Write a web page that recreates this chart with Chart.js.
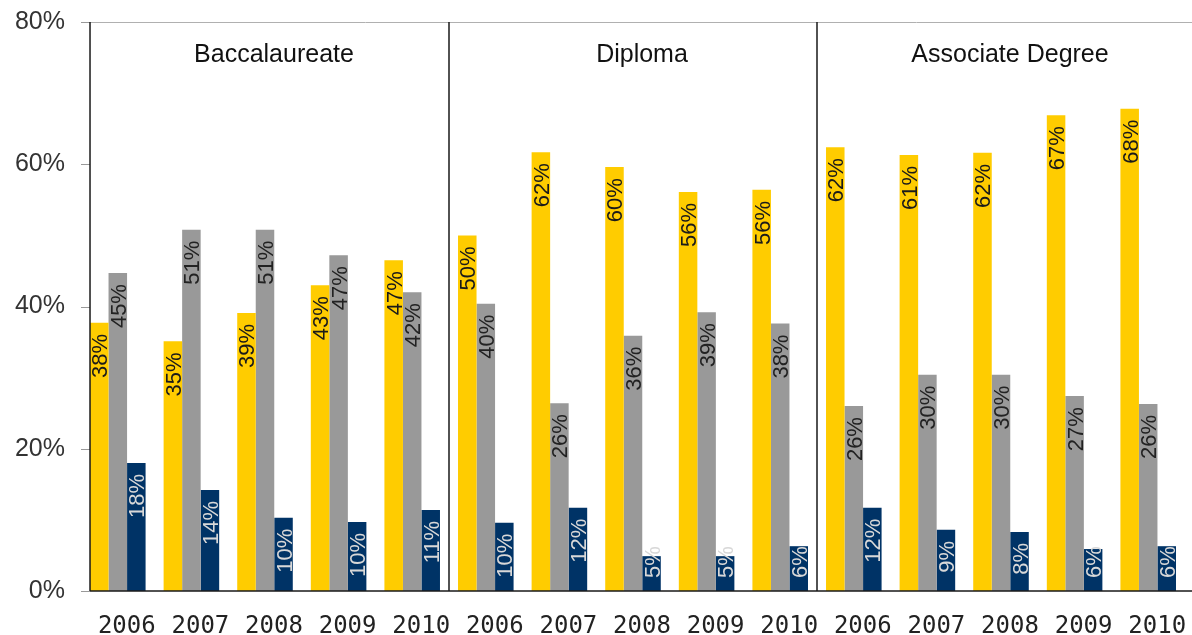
<!DOCTYPE html>
<html>
<head>
<meta charset="utf-8">
<script src="https://cdn.jsdelivr.net/npm/chart.js@4.4.1/dist/chart.umd.min.js"></script>
<style>
  html, body { margin: 0; padding: 0; background: #fff; }
  #wrap { width: 1192px; height: 635px; }
</style>
</head>
<body>
<div id="wrap"><canvas id="chart" width="1192" height="635"></canvas></div>
<script>
const programs = ['Baccalaureate', 'Diploma', 'Associate Degree'];
const years = ['2006', '2007', '2008', '2009', '2010'];

// per program, 2006..2010
const yellowValues = [
  37.7, 35.1, 39.1, 43.0, 46.5,
  50.0, 61.7, 59.6, 56.1, 56.4,
  62.4, 61.3, 61.6, 66.9, 67.8
];
const grayValues = [
  44.7, 50.8, 50.8, 47.2, 42.0,
  40.4, 26.4, 35.9, 39.2, 37.6,
  26.0, 30.4, 30.4, 27.4, 26.3
];
const navyValues = [
  18.0, 14.2, 10.3, 9.7, 11.4,
  9.6, 11.7, 4.9, 4.9, 6.3,
  11.7, 8.6, 8.3, 5.9, 6.3
];
const yTicks = [0, 20, 40, 60, 80];

const labels = [];
programs.forEach(p => years.forEach(yr => labels.push(p + ' ' + yr)));

const labelColors = ['#1a1a1a', '#222222', '#d8d8d8'];

// lines, separators, titles and rotated value labels
const decorPlugin = {
  id: 'decor',
  afterDatasetsDraw(chart) {
    const ctx = chart.ctx;
    const xs = chart.scales.x;
    const ys = chart.scales.y;
    const area = chart.chartArea;
    const firstBar = chart.getDatasetMeta(0).data[0];
    const axisX = firstBar.x - firstBar.width / 2;
    const top = ys.getPixelForValue(80);
    const base = ys.getPixelForValue(0);

    ctx.save();

    // value labels
    ctx.font = '22px "Liberation Sans", Arial, sans-serif';
    chart.data.datasets.forEach((ds, di) => {
      const meta = chart.getDatasetMeta(di);
      meta.data.forEach((bar, i) => {
        const text = Math.round(ds.data[i]) + '%';
        const w = ctx.measureText(text).width;
        let yStart = bar.y + 11;
        if (yStart + w > base - 13) yStart = base - 13 - w;
        ctx.save();
        ctx.translate(bar.x + 8, yStart);
        ctx.rotate(-Math.PI / 2);
        ctx.fillStyle = labelColors[di];
        ctx.textAlign = 'right';
        ctx.textBaseline = 'alphabetic';
        ctx.fillText(text, 0, 0);
        ctx.restore();
      });
    });

    // tick marks
    ctx.strokeStyle = '#999';
    ctx.lineWidth = 1;
    yTicks.forEach(v => {
      const py = Math.round(ys.getPixelForValue(v)) + 0.5;
      ctx.beginPath();
      ctx.moveTo(area.left, py);
      ctx.lineTo(axisX, py);
      ctx.stroke();
    });

    // top line
    ctx.strokeStyle = '#b0b0b0';
    ctx.beginPath();
    ctx.moveTo(axisX, Math.round(top) + 0.5);
    ctx.lineTo(chart.width, Math.round(top) + 0.5);
    ctx.stroke();

    // axis lines and group separators
    ctx.strokeStyle = '#1a1a1a';
    ctx.lineWidth = 1.5;
    ctx.beginPath();
    ctx.moveTo(axisX, base);
    ctx.lineTo(chart.width, base);
    ctx.moveTo(axisX, top);
    ctx.lineTo(axisX, base);
    [5, 10].forEach(k => {
      const sx = (xs.getPixelForValue(k - 1) + xs.getPixelForValue(k)) / 2;
      ctx.moveTo(sx, top);
      ctx.lineTo(sx, base);
    });
    ctx.stroke();

    // program titles
    ctx.font = '25px "Liberation Sans", Arial, sans-serif';
    ctx.fillStyle = '#111';
    ctx.textAlign = 'center';
    ctx.textBaseline = 'middle';
    programs.forEach((p, gi) => {
      const cx = (xs.getPixelForValue(gi * 5) + xs.getPixelForValue(gi * 5 + 4)) / 2 + 9;
      ctx.fillText(p, cx, 55);
    });

    ctx.restore();
  }
};

new Chart(document.getElementById('chart'), {
  type: 'bar',
  data: {
    labels,
    datasets: [
      { data: yellowValues, backgroundColor: '#ffcc00' },
      { data: grayValues, backgroundColor: '#999999' },
      { data: navyValues, backgroundColor: '#003366' }
    ]
  },
  options: {
    responsive: false,
    animation: false,
    layout: { padding: { top: 22, right: 7, left: 0, bottom: 0 } },
    datasets: {
      bar: { barPercentage: 1, categoryPercentage: 0.755 }
    },
    plugins: {
      legend: { display: false },
      tooltip: { enabled: false }
    },
    scales: {
      x: {
        grid: { display: false, drawTicks: false },
        border: { display: false },
        afterFit(scale) {
          scale.height = 44;
          scale.paddingLeft = 0;
          scale.paddingRight = 0;
        },
        ticks: {
          padding: 21,
          labelOffset: 9,
          maxRotation: 0,
          autoSkip: false,
          color: '#222',
          font: { family: '"DejaVu Sans Mono", monospace', size: 24 },
          callback: (v, i) => years[i % 5]
        }
      },
      y: {
        min: 0,
        max: 80,
        grid: { display: false, drawTicks: false },
        border: { display: false },
        afterFit(scale) {
          scale.width = 81;
          scale.paddingTop = 0;
          scale.paddingBottom = 0;
        },
        ticks: {
          stepSize: 20,
          padding: 16,
          color: '#333',
          font: { family: '"Liberation Sans", Arial, sans-serif', size: 25 },
          callback: v => v + '%'
        }
      }
    }
  },
  plugins: [decorPlugin]
});
</script>
</body>
</html>
